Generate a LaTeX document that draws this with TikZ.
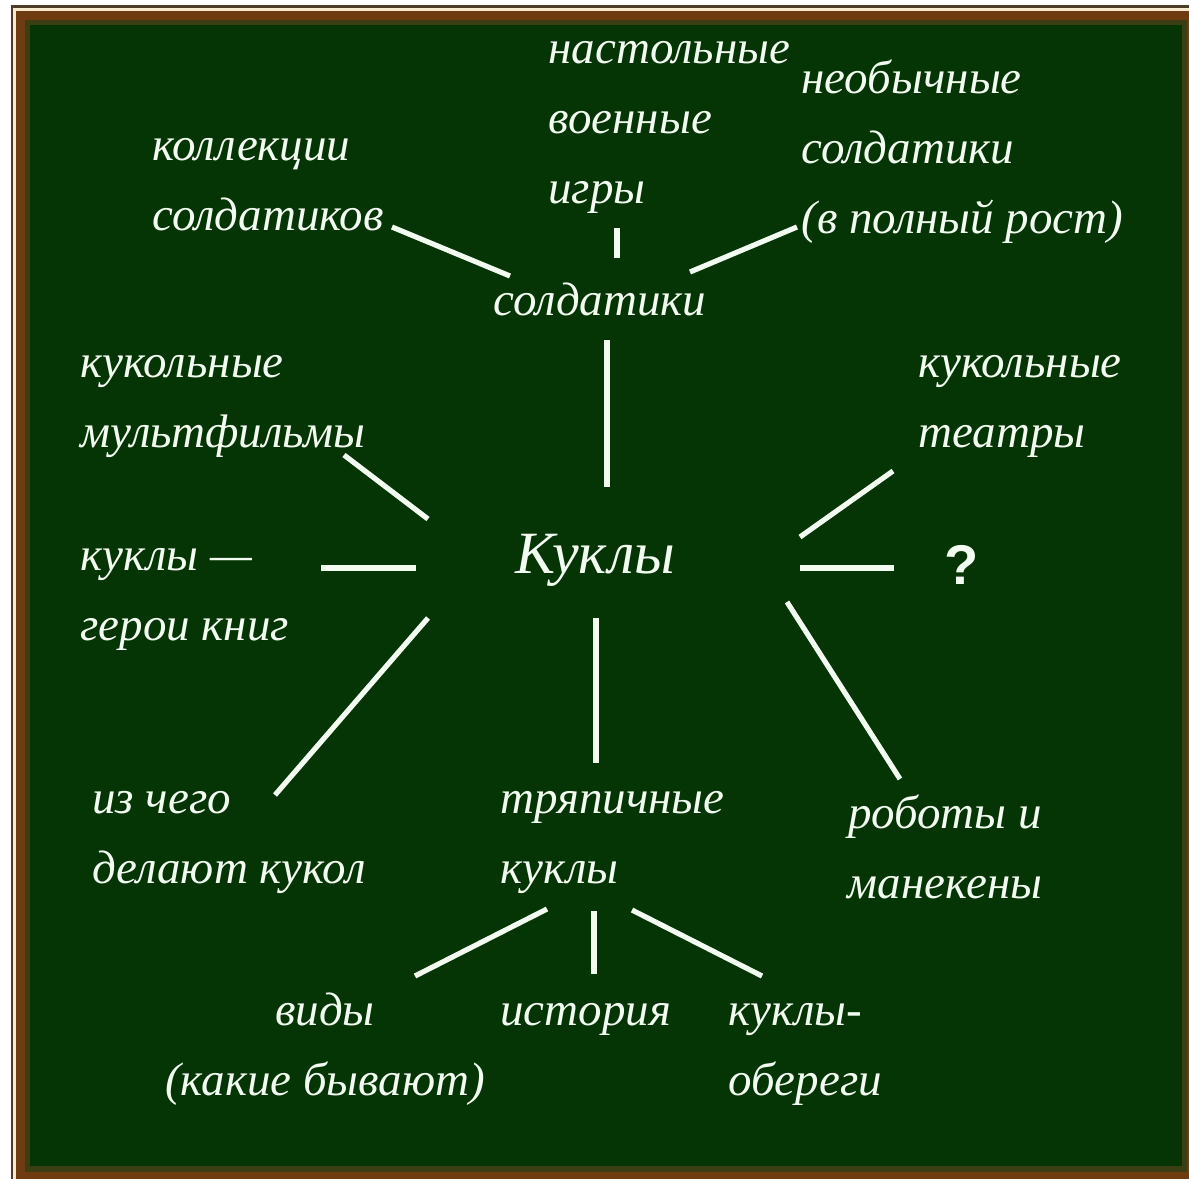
\documentclass[tikz,border=0pt]{standalone}
\usepackage{fontspec}
\setmainfont{Liberation Serif}
\newfontfamily\qmarkfont{Liberation Sans}
\usepackage{tikz}
\usetikzlibrary{calc}
\definecolor{board}{HTML}{053405}
\definecolor{chalkwhite}{HTML}{F2FCF0}
\definecolor{frameedge}{HTML}{4E3B28}
\definecolor{framecream}{HTML}{F6E9CC}
\definecolor{framewood}{HTML}{6E3C10}
\definecolor{frameolive}{HTML}{3A3E12}
\newcommand{\chalkfont}{\fontsize{23.5}{35}\selectfont\itshape}

\begin{document}
\begin{tikzpicture}[x=0.5pt,y=-0.5pt,
  chalk/.style={text=chalkwhite,font=\chalkfont,inner sep=0pt,align=left},
  link/.style={draw=chalkwhite,line width=2.6pt}]
  %% board and frame
  \useasboundingbox (0,0) rectangle (1189,1179);
  \fill[white] (0,0) rectangle (1189,1179);
  \fill[frameedge] (11,5) rectangle (1189,1179);
  \fill[framecream] (13,8) rectangle (1189,1179);
  \fill[framewood] (16,11) rectangle (1189,1179);
  \fill[frameolive] (25,20) rectangle (1187,1172);
  \fill[board] (30,25) rectangle (1182,1166);
  %% soldiers branch (nodes sit on the baseline of their last line)
  \node[chalk,anchor=base west] (kollekt) at (152,230) {коллекции\\солдатиков};
  \node[chalk,anchor=base west] (nastol) at (548,203) {настольные\\военные\\игры};
  \node[chalk,anchor=base west] (neobych) at (801,233) {необычные\\солдатики\\(в полный рост)};
  \node[chalk,anchor=base] (soldat) at (600,315) {солдатики};
  %% centre and side topics
  \node[chalk,anchor=base,font=\fontsize{30}{35}\selectfont\itshape] (kukly) at (595,573) {Куклы};
  \node[chalk,anchor=base west] (multf) at (80,447) {кукольные\\мультфильмы};
  \node[chalk,anchor=base west] (teatr) at (918,447) {кукольные\\театры};
  \node[chalk,anchor=base west] (geroi) at (80,640) {куклы —\\герои книг};
  \node[text=chalkwhite,inner sep=0pt,font=\qmarkfont\bfseries\fontsize{28}{30}\selectfont] (quest) at (962,565) {?};
  \node[chalk,anchor=base west] (izchego) at (92,883) {из чего\\делают кукол};
  \node[chalk,anchor=base west] (tryap) at (500,883) {тряпичные\\куклы};
  \node[chalk,anchor=base,align=center] (robot) at (945,898) {роботы и\\манекены};
  %% rag dolls branch
  \node[chalk,anchor=base,align=center] (vidy) at (325,1095) {виды\\(какие бывают)};
  \node[chalk,anchor=base west] (istor) at (500,1025) {история};
  \node[chalk,anchor=base west] (obereg) at (728,1095) {куклы-\\обереги};
  %% connectors
  \draw[link] ($(kollekt.base west)+(240,-3)$) -- ($(soldat.base)+(-90,-39)$);
  \draw[link] ($(nastol.base west)+(69,25)$) -- ($(soldat.base)+(17,-57)$);
  \draw[link] ($(soldat.base)+(90,-43)$) -- ($(neobych.base west)+(-4,-6)$);
  \draw[link] ($(soldat.base)+(7,25)$) -- ($(kukly.base)+(12,-86)$);
  \draw[link] ($(multf.base west)+(264,8)$) -- ($(kukly.base)+(-167,-54)$);
  \draw[link] ($(geroi.base west)+(241,-72)$) -- ($(kukly.base)+(-179,-5)$);
  \draw[link] ($(kukly.base)+(-167,45)$) -- ($(izchego.base west)+(183,-88)$);
  \draw[link] ($(kukly.base)+(1,45)$) -- ($(tryap.base west)+(96,-120)$);
  \draw[link] ($(kukly.base)+(192,29)$) -- ($(robot.base)+(-45,-119)$);
  \draw[link] ($(kukly.base)+(205,-5)$) -- ($(quest.center)+(-68,3)$);
  \draw[link] ($(kukly.base)+(205,-36)$) -- ($(teatr.base west)+(-25,24)$);
  \draw[link] ($(tryap.base west)+(47,26)$) -- ($(vidy.base)+(90,-119)$);
  \draw[link] ($(tryap.base west)+(94,28)$) -- ($(istor.base west)+(94,-51)$);
  \draw[link] ($(tryap.base west)+(132,27)$) -- ($(obereg.base west)+(34,-119)$);
\end{tikzpicture}
\end{document}
